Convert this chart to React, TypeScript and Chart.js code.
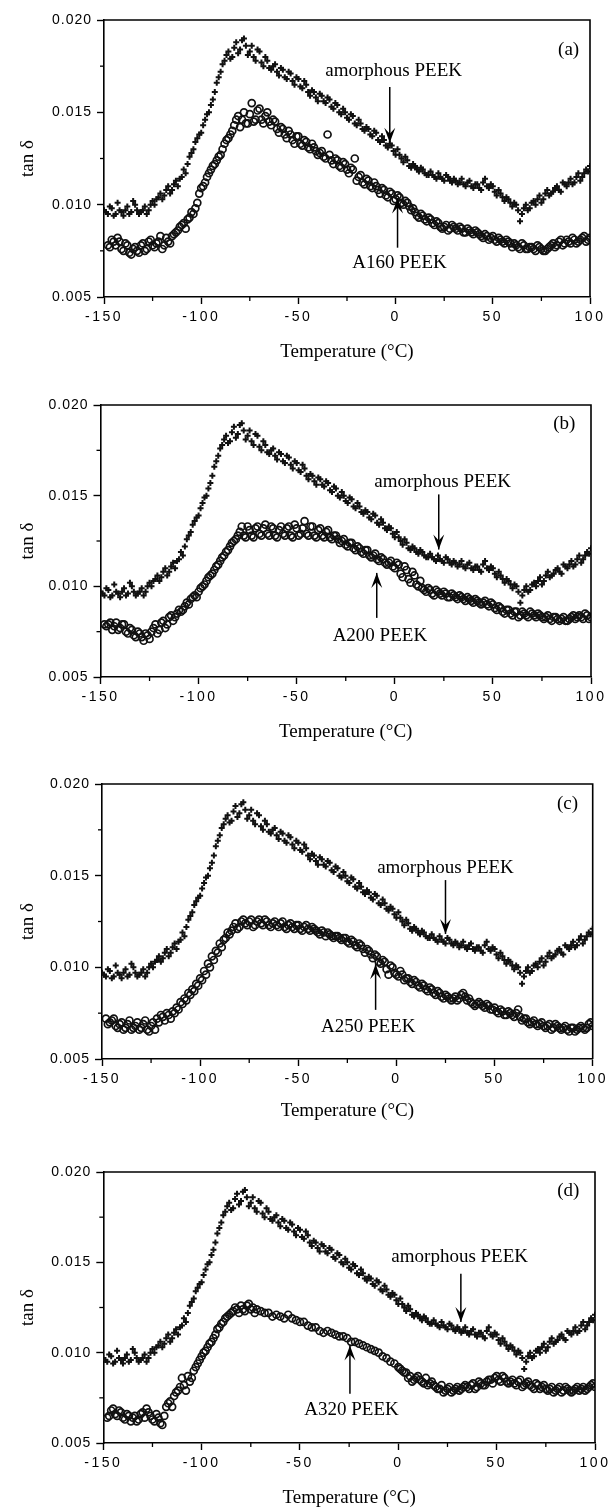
import React, { useEffect, useRef } from 'react';
import { Chart, registerables } from 'chart.js';

Chart.register(...registerables);

// ---------------- data ----------------
// even-degree readings
const temperatures = [
  -150, -148, -146, -144, -142, -140, -138, -136, -134, -132,
  -130, -128, -126, -124, -122, -120, -118, -116, -114, -112,
  -110, -108, -106, -104, -102, -100, -98, -96, -94, -92,
  -90, -88, -86, -84, -82, -80, -78, -76, -74, -72,
  -70, -68, -66, -64, -62, -60, -58, -56, -54, -52,
  -50, -48, -46, -44, -42, -40, -38, -36, -34, -32,
  -30, -28, -26, -24, -22, -20, -18, -16, -14, -12,
  -10, -8, -6, -4, -2, 0, 2, 4, 6, 8,
  10, 12, 14, 16, 18, 20, 22, 24, 26, 28,
  30, 32, 34, 36, 38, 40, 42, 44, 46, 48,
  50, 52, 54, 56, 58, 60, 62, 64, 66, 68,
  70, 72, 74, 76, 78, 80, 82, 84, 86, 88,
  90, 92, 94, 96, 98, 100,
];

// odd-degree readings (second scan of the scatter band)
const temperaturesOdd = [
  -149, -147, -145, -143, -141, -139, -137, -135, -133, -131,
  -129, -127, -125, -123, -121, -119, -117, -115, -113, -111,
  -109, -107, -105, -103, -101, -99, -97, -95, -93, -91,
  -89, -87, -85, -83, -81, -79, -77, -75, -73, -71,
  -69, -67, -65, -63, -61, -59, -57, -55, -53, -51,
  -49, -47, -45, -43, -41, -39, -37, -35, -33, -31,
  -29, -27, -25, -23, -21, -19, -17, -15, -13, -11,
  -9, -7, -5, -3, -1, 1, 3, 5, 7, 9,
  11, 13, 15, 17, 19, 21, 23, 25, 27, 29,
  31, 33, 35, 37, 39, 41, 43, 45, 47, 49,
  51, 53, 55, 57, 59, 61, 63, 65, 67, 69,
  71, 73, 75, 77, 79, 81, 83, 85, 87, 89,
  91, 93, 95, 97, 99,
];

const amorphousPEEK = [
  0.0097, 0.0095, 0.0098, 0.0095, 0.0097, 0.0094, 0.0099, 0.0096, 0.0100, 0.0095,
  0.0097, 0.0095, 0.0100, 0.0100, 0.0104, 0.0103, 0.0108, 0.0106, 0.0111, 0.0110,
  0.0115, 0.0117, 0.0126, 0.0130, 0.0136, 0.0139, 0.0146, 0.0150, 0.0157, 0.0166,
  0.0172, 0.0178, 0.0183, 0.0180, 0.0188, 0.0184, 0.0190, 0.0181, 0.0186, 0.0178,
  0.0183, 0.0175, 0.0178, 0.0173, 0.0176, 0.0170, 0.0173, 0.0168, 0.0171, 0.0165,
  0.0168, 0.0163, 0.0165, 0.0159, 0.0161, 0.0156, 0.0159, 0.0155, 0.0157, 0.0152,
  0.0154, 0.0149, 0.0150, 0.0146, 0.0148, 0.0143, 0.0144, 0.0140, 0.0141, 0.0137,
  0.0139, 0.0134, 0.0135, 0.0131, 0.0132, 0.0127, 0.0127, 0.0123, 0.0124, 0.0120,
  0.0121, 0.0118, 0.0119, 0.0116, 0.0118, 0.0115, 0.0117, 0.0114, 0.0116, 0.0113,
  0.0114, 0.0111, 0.0114, 0.0110, 0.0113, 0.0109, 0.0111, 0.0108, 0.0114, 0.0109,
  0.0110, 0.0105, 0.0106, 0.0102, 0.0103, 0.0099, 0.0100, 0.0091, 0.0098, 0.0097,
  0.0101, 0.0100, 0.0105, 0.0103, 0.0108, 0.0106, 0.0109, 0.0108, 0.0112, 0.0110,
  0.0114, 0.0112, 0.0117, 0.0115, 0.0119, 0.0121,
];
const amorphousPEEKOdd = [
  0.0096, 0.0099, 0.0094, 0.0101, 0.0096, 0.0097, 0.0095, 0.0102, 0.0097, 0.0096,
  0.0099, 0.0097, 0.0102, 0.0103, 0.0106, 0.0105, 0.0110, 0.0108, 0.0113, 0.0114,
  0.0119, 0.0122, 0.0128, 0.0134, 0.0138, 0.0143, 0.0149, 0.0154, 0.0161, 0.0169,
  0.0176, 0.0181, 0.0179, 0.0185, 0.0182, 0.0189, 0.0186, 0.0183, 0.0180, 0.0184,
  0.0177, 0.0180, 0.0174, 0.0175, 0.0172, 0.0174, 0.0169, 0.0172, 0.0167, 0.0169,
  0.0164, 0.0167, 0.0161, 0.0162, 0.0158, 0.0160, 0.0156, 0.0158, 0.0153, 0.0155,
  0.0150, 0.0152, 0.0147, 0.0149, 0.0144, 0.0146, 0.0141, 0.0142, 0.0138, 0.0140,
  0.0135, 0.0137, 0.0132, 0.0133, 0.0129, 0.0130, 0.0125, 0.0126, 0.0121, 0.0122,
  0.0119, 0.0120, 0.0117, 0.0116, 0.0116, 0.0114, 0.0115, 0.0113, 0.0115, 0.0112,
  0.0113, 0.0112, 0.0111, 0.0112, 0.0110, 0.0111, 0.0109, 0.0112, 0.0110, 0.0111,
  0.0107, 0.0108, 0.0104, 0.0104, 0.0101, 0.0101, 0.0097, 0.0095, 0.0100, 0.0098,
  0.0102, 0.0103, 0.0101, 0.0106, 0.0105, 0.0107, 0.0110, 0.0107, 0.0111, 0.0112,
  0.0111, 0.0115, 0.0113, 0.0117, 0.0118,
];

const a160PEEK = [
  null, 0.0078, 0.0081, 0.0078, 0.0080, 0.0075, 0.0078, 0.0073, 0.0077, 0.0074,
  0.0079, 0.0076, 0.0081, 0.0077, 0.0080, 0.0076, 0.0082, 0.0079, 0.0084, 0.0086,
  0.0089, 0.0087, 0.0093, 0.0095, 0.0101, 0.0109, 0.0112, 0.0117, 0.0121, 0.0124,
  0.0127, 0.0133, 0.0136, 0.0140, 0.0146, 0.0142, 0.0150, 0.0144, 0.0155, 0.0146,
  0.0152, 0.0144, 0.0150, 0.0143, 0.0145, 0.0139, 0.0141, 0.0136, 0.0138, 0.0133,
  0.0137, 0.0132, 0.0134, 0.0130, 0.0131, 0.0127, 0.0129, 0.0125, 0.0127, 0.0122,
  0.0124, 0.0120, 0.0122, 0.0117, 0.0119, 0.0113, 0.0116, 0.0111, 0.0113, 0.0109,
  0.0110, 0.0106, 0.0108, 0.0104, 0.0106, 0.0103, 0.0104, 0.0100, 0.0101, 0.0097,
  0.0096, 0.0093, 0.0094, 0.0091, 0.0092, 0.0089, 0.0090, 0.0087, 0.0089, 0.0087,
  0.0088, 0.0086, 0.0087, 0.0085, 0.0086, 0.0084, 0.0085, 0.0083, 0.0084, 0.0081,
  0.0083, 0.0080, 0.0081, 0.0079, 0.0080, 0.0077, 0.0078, 0.0076, 0.0078, 0.0076,
  0.0077, 0.0075, 0.0077, 0.0075, 0.0076, 0.0078, 0.0077, 0.0080, 0.0078, 0.0081,
  0.0079, 0.0081, 0.0080, 0.0082, 0.0080, 0.0082,
];
const a160PEEKOdd = [
  null, 0.0077, 0.0080, 0.0082, 0.0076, 0.0079, 0.0074, 0.0076, 0.0075, 0.0078,
  0.0075, 0.0080, 0.0078, 0.0079, 0.0083, 0.0078, 0.0080, 0.0083, 0.0085, 0.0088,
  0.0090, 0.0092, 0.0096, 0.0098, 0.0106, 0.0110, 0.0115, 0.0119, 0.0122, 0.0126,
  0.0130, 0.0135, 0.0138, 0.0143, 0.0148, 0.0146, 0.0144, 0.0149, 0.0145, 0.0151,
  0.0146, 0.0148, 0.0145, 0.0146, 0.0141, 0.0142, 0.0138, 0.0140, 0.0135, 0.0137,
  0.0133, 0.0135, 0.0131, 0.0133, 0.0129, 0.0128, 0.0126, 0.0138, 0.0124, 0.0125,
  0.0121, 0.0123, 0.0119, 0.0120, 0.0125, 0.0115, 0.0112, 0.0114, 0.0110, 0.0112,
  0.0108, 0.0109, 0.0105, 0.0107, 0.0102, 0.0105, 0.0101, 0.0102, 0.0099, 0.0098,
  0.0094, 0.0095, 0.0092, 0.0093, 0.0090, 0.0091, 0.0088, 0.0088, 0.0086, 0.0089,
  0.0087, 0.0088, 0.0085, 0.0087, 0.0085, 0.0086, 0.0084, 0.0082, 0.0083, 0.0082,
  0.0081, 0.0082, 0.0080, 0.0081, 0.0079, 0.0079, 0.0077, 0.0079, 0.0076, 0.0077,
  0.0076, 0.0078, 0.0076, 0.0075, 0.0077, 0.0079, 0.0078, 0.0081, 0.0079, 0.0080,
  0.0082, 0.0079, 0.0081, 0.0083, 0.0081,
];

const a200PEEK = [
  null, 0.0079, 0.0079, 0.0076, 0.0080, 0.0077, 0.0079, 0.0074, 0.0076, 0.0072,
  0.0074, 0.0070, 0.0073, 0.0075, 0.0079, 0.0076, 0.0081, 0.0079, 0.0084, 0.0083,
  0.0087, 0.0087, 0.0091, 0.0093, 0.0095, 0.0097, 0.0100, 0.0103, 0.0106, 0.0109,
  0.0112, 0.0116, 0.0119, 0.0122, 0.0125, 0.0128, 0.0133, 0.0127, 0.0131, 0.0127,
  0.0133, 0.0128, 0.0134, 0.0128, 0.0132, 0.0127, 0.0133, 0.0128, 0.0133, 0.0127,
  0.0132, 0.0129, 0.0136, 0.0128, 0.0133, 0.0127, 0.0132, 0.0127, 0.0131, 0.0126,
  0.0128, 0.0124, 0.0126, 0.0122, 0.0124, 0.0120, 0.0121, 0.0118, 0.0120, 0.0116,
  0.0118, 0.0114, 0.0115, 0.0112, 0.0114, 0.0110, 0.0112, 0.0105, 0.0109, 0.0102,
  0.0106, 0.0100, 0.0099, 0.0097, 0.0098, 0.0095, 0.0097, 0.0095, 0.0096, 0.0094,
  0.0095, 0.0093, 0.0094, 0.0092, 0.0093, 0.0091, 0.0092, 0.0090, 0.0092, 0.0089,
  0.0090, 0.0087, 0.0088, 0.0085, 0.0087, 0.0084, 0.0086, 0.0084, 0.0085, 0.0083,
  0.0085, 0.0083, 0.0084, 0.0082, 0.0084, 0.0081, 0.0083, 0.0081, 0.0083, 0.0081,
  0.0083, 0.0082, 0.0084, 0.0082, 0.0084, 0.0083,
];
const a200PEEKOdd = [
  null, 0.0078, 0.0080, 0.0078, 0.0076, 0.0079, 0.0075, 0.0077, 0.0073, 0.0075,
  0.0072, 0.0074, 0.0071, 0.0077, 0.0074, 0.0080, 0.0077, 0.0083, 0.0081, 0.0085,
  0.0086, 0.0089, 0.0090, 0.0094, 0.0094, 0.0099, 0.0101, 0.0105, 0.0107, 0.0111,
  0.0114, 0.0117, 0.0120, 0.0124, 0.0126, 0.0130, 0.0128, 0.0133, 0.0128, 0.0132,
  0.0129, 0.0132, 0.0129, 0.0133, 0.0128, 0.0131, 0.0129, 0.0132, 0.0128, 0.0134,
  0.0128, 0.0132, 0.0129, 0.0133, 0.0128, 0.0131, 0.0128, 0.0130, 0.0127, 0.0128,
  0.0126, 0.0125, 0.0123, 0.0124, 0.0121, 0.0122, 0.0119, 0.0120, 0.0117, 0.0117,
  0.0115, 0.0116, 0.0113, 0.0113, 0.0111, 0.0113, 0.0107, 0.0111, 0.0104, 0.0108,
  0.0101, 0.0103, 0.0098, 0.0099, 0.0096, 0.0098, 0.0096, 0.0097, 0.0094, 0.0096,
  0.0094, 0.0095, 0.0093, 0.0094, 0.0092, 0.0093, 0.0091, 0.0091, 0.0090, 0.0091,
  0.0088, 0.0089, 0.0086, 0.0087, 0.0085, 0.0086, 0.0083, 0.0086, 0.0084, 0.0086,
  0.0084, 0.0085, 0.0083, 0.0083, 0.0082, 0.0083, 0.0082, 0.0082, 0.0081, 0.0082,
  0.0084, 0.0083, 0.0083, 0.0085, 0.0082,
];

const a250PEEK = [
  null, 0.0072, 0.0070, 0.0072, 0.0067, 0.0070, 0.0067, 0.0071, 0.0067, 0.0070,
  0.0067, 0.0071, 0.0065, 0.0070, 0.0072, 0.0074, 0.0071, 0.0074, 0.0076, 0.0078,
  0.0081, 0.0083, 0.0086, 0.0088, 0.0091, 0.0094, 0.0098, 0.0102, 0.0106, 0.0109,
  0.0113, 0.0115, 0.0119, 0.0120, 0.0124, 0.0122, 0.0126, 0.0123, 0.0126, 0.0123,
  0.0126, 0.0123, 0.0125, 0.0122, 0.0125, 0.0122, 0.0125, 0.0121, 0.0124, 0.0121,
  0.0123, 0.0120, 0.0123, 0.0120, 0.0121, 0.0119, 0.0120, 0.0117, 0.0118, 0.0116,
  0.0117, 0.0115, 0.0116, 0.0113, 0.0114, 0.0111, 0.0112, 0.0108, 0.0109, 0.0105,
  0.0106, 0.0102, 0.0103, 0.0096, 0.0100, 0.0096, 0.0098, 0.0093, 0.0094, 0.0091,
  0.0092, 0.0089, 0.0090, 0.0087, 0.0088, 0.0085, 0.0086, 0.0083, 0.0084, 0.0082,
  0.0084, 0.0083, 0.0086, 0.0082, 0.0081, 0.0079, 0.0081, 0.0079, 0.0080, 0.0077,
  0.0078, 0.0075, 0.0076, 0.0074, 0.0075, 0.0073, 0.0077, 0.0071, 0.0072, 0.0069,
  0.0071, 0.0068, 0.0070, 0.0067, 0.0069, 0.0067, 0.0068, 0.0066, 0.0068, 0.0065,
  0.0067, 0.0066, 0.0068, 0.0066, 0.0069, 0.0068,
];
const a250PEEKOdd = [
  null, 0.0069, 0.0071, 0.0068, 0.0069, 0.0066, 0.0069, 0.0066, 0.0068, 0.0066,
  0.0069, 0.0066, 0.0068, 0.0066, 0.0070, 0.0073, 0.0075, 0.0072, 0.0075, 0.0077,
  0.0080, 0.0082, 0.0085, 0.0087, 0.0090, 0.0093, 0.0096, 0.0100, 0.0104, 0.0108,
  0.0111, 0.0116, 0.0118, 0.0122, 0.0121, 0.0125, 0.0124, 0.0125, 0.0122, 0.0125,
  0.0124, 0.0126, 0.0123, 0.0124, 0.0123, 0.0124, 0.0122, 0.0123, 0.0122, 0.0123,
  0.0121, 0.0122, 0.0121, 0.0122, 0.0120, 0.0118, 0.0119, 0.0119, 0.0117, 0.0117,
  0.0116, 0.0116, 0.0114, 0.0115, 0.0112, 0.0113, 0.0110, 0.0110, 0.0107, 0.0107,
  0.0103, 0.0104, 0.0099, 0.0101, 0.0097, 0.0095, 0.0096, 0.0094, 0.0092, 0.0093,
  0.0090, 0.0091, 0.0088, 0.0089, 0.0086, 0.0087, 0.0084, 0.0085, 0.0083, 0.0083,
  0.0082, 0.0085, 0.0084, 0.0083, 0.0080, 0.0080, 0.0080, 0.0078, 0.0079, 0.0077,
  0.0076, 0.0077, 0.0074, 0.0076, 0.0074, 0.0075, 0.0073, 0.0072, 0.0070, 0.0070,
  0.0069, 0.0069, 0.0068, 0.0068, 0.0066, 0.0069, 0.0067, 0.0067, 0.0066, 0.0067,
  0.0065, 0.0067, 0.0067, 0.0067, 0.0070,
];

const a320PEEK = [
  null, 0.0064, 0.0068, 0.0066, 0.0068, 0.0064, 0.0066, 0.0062, 0.0065, 0.0063,
  0.0067, 0.0069, 0.0065, 0.0062, 0.0064, 0.0060, 0.0070, 0.0073, 0.0076, 0.0079,
  0.0086, 0.0079, 0.0084, 0.0090, 0.0094, 0.0098, 0.0101, 0.0105, 0.0108, 0.0113,
  0.0116, 0.0119, 0.0121, 0.0123, 0.0124, 0.0126, 0.0123, 0.0127, 0.0125, 0.0124,
  0.0123, 0.0122, 0.0122, 0.0120, 0.0121, 0.0120, 0.0119, 0.0121, 0.0119, 0.0118,
  0.0117, 0.0117, 0.0115, 0.0114, 0.0114, 0.0112, 0.0111, 0.0112, 0.0111, 0.0110,
  0.0109, 0.0109, 0.0108, 0.0106, 0.0106, 0.0105, 0.0104, 0.0103, 0.0102, 0.0101,
  0.0100, 0.0098, 0.0097, 0.0095, 0.0094, 0.0092, 0.0090, 0.0089, 0.0087, 0.0085,
  0.0087, 0.0084, 0.0086, 0.0083, 0.0082, 0.0080, 0.0082, 0.0079, 0.0081, 0.0079,
  0.0081, 0.0080, 0.0082, 0.0080, 0.0083, 0.0081, 0.0083, 0.0082, 0.0085, 0.0083,
  0.0087, 0.0084, 0.0086, 0.0083, 0.0085, 0.0082, 0.0085, 0.0082, 0.0084, 0.0081,
  0.0083, 0.0080, 0.0082, 0.0079, 0.0081, 0.0079, 0.0081, 0.0079, 0.0080, 0.0078,
  0.0080, 0.0079, 0.0081, 0.0080, 0.0082, 0.0081,
];
const a320PEEKOdd = [
  null, 0.0065, 0.0069, 0.0065, 0.0067, 0.0063, 0.0065, 0.0064, 0.0062, 0.0066,
  0.0064, 0.0067, 0.0063, 0.0066, 0.0061, 0.0065, 0.0072, 0.0070, 0.0078, 0.0081,
  0.0082, 0.0087, 0.0086, 0.0092, 0.0096, 0.0100, 0.0103, 0.0106, 0.0110, 0.0114,
  0.0117, 0.0120, 0.0122, 0.0125, 0.0122, 0.0124, 0.0126, 0.0124, 0.0122, null,
  null, null, null, null, null, null, null, null, null, null,
  null, null, null, null, null, null, null, null, null, null,
  null, null, null, null, null, null, null, null, null, null,
  null, null, null, null, null, 0.0091, 0.0089, 0.0086, 0.0084, 0.0086,
  0.0085, 0.0083, 0.0082, 0.0084, 0.0081, 0.0080, 0.0078, 0.0080, 0.0078, 0.0080,
  0.0079, 0.0081, 0.0081, 0.0082, 0.0080, 0.0084, 0.0082, 0.0084, 0.0085, 0.0086,
  0.0085, 0.0087, 0.0084, 0.0084, 0.0083, 0.0084, 0.0081, 0.0083, 0.0082, 0.0080,
  0.0082, 0.0081, 0.0080, 0.0080, 0.0078, 0.0080, 0.0078, 0.0081, 0.0079, 0.0079,
  0.0081, 0.0080, 0.0079, 0.0081, 0.0083,
];

const xTickValues = [-150, -100, -50, 0, 50, 100];
const yTickValues = [0.005, 0.01, 0.015, 0.02];

const xAxisTitle = 'Temperature (°C)';
const yAxisTitle = 'tan δ';
const referenceName = 'amorphous PEEK';

// ---------------- layout / annotation config ----------------
const SERIF = '"Liberation Serif", "Times New Roman", serif';
const SANS = '"Liberation Sans", Arial, sans-serif';

type Notes = {
  tag: [number, number];
  refText: [number, number];
  refArrow: [number, number, number];
  sampleText: [number, number];
  sampleArrow: [number, number, number];
};

type Panel = {
  id: string;
  tag: string;
  sampleName: string;
  sample: (number | null)[];
  sampleOdd: (number | null)[];
  box: { l: number; r: number; t: number; b: number };
  canvasTop: number;
  canvasH: number;
  titleY: number;
  notes: Notes;
};

const panels: Panel[] = [
  {
    id: 'a', tag: '(a)', sampleName: 'A160 PEEK', sample: a160PEEK, sampleOdd: a160PEEKOdd,
    box: { l: 104, r: 590, t: 20, b: 297 }, canvasTop: 0, canvasH: 372, titleY: 352,
    notes: {
      tag: [89, 0.0184], refText: [-1, 0.01723], refArrow: [-3, 0.01637, 0.01335],
      sampleText: [2, 0.00685], sampleArrow: [1, 0.00767, 0.01033],
    },
  },
  {
    id: 'b', tag: '(b)', sampleName: 'A200 PEEK', sample: a200PEEK, sampleOdd: a200PEEKOdd,
    box: { l: 100.5, r: 591, t: 405, b: 677 }, canvasTop: 378, canvasH: 372, titleY: 732,
    notes: {
      tag: [86.4, 0.01893], refText: [24.4, 0.01575], refArrow: [22.4, 0.01507, 0.01203],
      sampleText: [-7.6, 0.00725], sampleArrow: [-9.2, 0.00826, 0.01074],
    },
  },
  {
    id: 'c', tag: '(c)', sampleName: 'A250 PEEK', sample: a250PEEK, sampleOdd: a250PEEKOdd,
    box: { l: 102, r: 592.7, t: 784, b: 1059 }, canvasTop: 756, canvasH: 372, titleY: 1111,
    notes: {
      tag: [87.2, 0.0189], refText: [25, 0.01544], refArrow: [25, 0.01476, 0.01182],
      sampleText: [-14.4, 0.00676], sampleArrow: [-10.6, 0.00768, 0.01017],
    },
  },
  {
    id: 'd', tag: '(d)', sampleName: 'A320 PEEK', sample: a320PEEK, sampleOdd: a320PEEKOdd,
    box: { l: 103.3, r: 595, t: 1172, b: 1443 }, canvasTop: 1135, canvasH: 373, titleY: 1498,
    notes: {
      tag: [86.4, 0.01895], refText: [31.2, 0.0153], refArrow: [31.8, 0.01437, 0.0117],
      sampleText: [-23.8, 0.00681], sampleArrow: [-24.6, 0.00773, 0.0104],
    },
  },
];

function toPoints(evenValues: (number | null)[], oddValues: (number | null)[]) {
  const pts: { x: number; y: number }[] = [];
  temperatures.forEach((t, i) => {
    const v = evenValues[i];
    if (v !== null && v !== undefined) pts.push({ x: t, y: v });
  });
  temperaturesOdd.forEach((t, i) => {
    const v = oddValues[i];
    if (v !== null && v !== undefined) pts.push({ x: t, y: v });
  });
  return pts;
}

function drawArrow(ctx: CanvasRenderingContext2D, x: number, y0: number, y1: number) {
  ctx.beginPath();
  ctx.moveTo(x, y0);
  ctx.lineTo(x, y1);
  ctx.stroke();
  const dir = y1 > y0 ? 1 : -1;
  const L = 15, W = 5.5, N = 9;
  ctx.beginPath();
  ctx.moveTo(x, y1);
  ctx.lineTo(x - W, y1 - dir * L);
  ctx.lineTo(x, y1 - dir * N);
  ctx.lineTo(x + W, y1 - dir * L);
  ctx.closePath();
  ctx.fill();
}

function makeDecor(panel: Panel) {
  return {
    id: 'decor' + panel.id,
    beforeDraw(chart: any) {
      const patch = (scale: any, spacing: string) => {
        if (!scale || scale.__spaced) return;
        const orig = scale.drawLabels;
        scale.drawLabels = function (area: any) {
          const c = this.ctx;
          c.save();
          c.letterSpacing = spacing;
          orig.call(this, area);
          c.restore();
        };
        scale.__spaced = true;
      };
      patch(chart.scales.x, '2.5px');
      patch(chart.scales.y, '1px');
    },
    afterDraw(chart: any) {
      const { ctx, chartArea: a } = chart;
      const xs = chart.scales.x;
      const ys = chart.scales.y;
      ctx.save();
      ctx.strokeStyle = '#000';
      ctx.fillStyle = '#000';
      ctx.lineWidth = 1.6;
      ctx.beginPath();
      ctx.moveTo(a.left, a.top);
      ctx.lineTo(a.right, a.top);
      ctx.lineTo(a.right, a.bottom);
      ctx.stroke();

      // minor ticks
      ctx.lineWidth = 1.3;
      for (let i = 0; i < xTickValues.length - 1; i++) {
        const px = xs.getPixelForValue((xTickValues[i] + xTickValues[i + 1]) / 2);
        ctx.beginPath();
        ctx.moveTo(px, a.bottom);
        ctx.lineTo(px, a.bottom + 4);
        ctx.stroke();
      }
      for (let i = 0; i < yTickValues.length - 1; i++) {
        const py = ys.getPixelForValue((yTickValues[i] + yTickValues[i + 1]) / 2);
        ctx.beginPath();
        ctx.moveTo(a.left - 4, py);
        ctx.lineTo(a.left, py);
        ctx.stroke();
      }

      // annotations
      const n = panel.notes;
      const P = (x: number, y: number) => [xs.getPixelForValue(x), ys.getPixelForValue(y)];
      ctx.font = `19px ${SERIF}`;
      ctx.textAlign = 'center';
      ctx.textBaseline = 'middle';
      let [tx, ty] = P(n.tag[0], n.tag[1]);
      ctx.fillText(panel.tag, tx, ty);
      [tx, ty] = P(n.refText[0], n.refText[1]);
      ctx.fillText(referenceName, tx, ty);
      [tx, ty] = P(n.sampleText[0], n.sampleText[1]);
      ctx.fillText(panel.sampleName, tx, ty);

      ctx.lineWidth = 1.5;
      const ra = n.refArrow;
      drawArrow(ctx, xs.getPixelForValue(ra[0]), ys.getPixelForValue(ra[1]), ys.getPixelForValue(ra[2]));
      const sa = n.sampleArrow;
      drawArrow(ctx, xs.getPixelForValue(sa[0]), ys.getPixelForValue(sa[1]), ys.getPixelForValue(sa[2]));
      ctx.restore();
    },
  };
}

function PanelChart({ panel }: { panel: Panel }) {
  const ref = useRef<HTMLCanvasElement | null>(null);

  useEffect(() => {
    const { box, canvasTop, canvasH, titleY } = panel;
    const titleHalf = 9.5;
    const padBottom = Math.max(0, canvasTop + canvasH - titleY - titleHalf);
    const xHeight = canvasTop + canvasH - padBottom - box.b;
    const tickFont = { family: SANS, size: 14 };

    const chart = new Chart(ref.current as HTMLCanvasElement, {
      type: 'scatter',
      data: {
        datasets: [
          {
            label: panel.sampleName,
            data: toPoints(panel.sample, panel.sampleOdd),
            pointStyle: 'circle',
            pointRadius: 3.5,
            pointBorderWidth: 1.7,
            pointBorderColor: '#111',
            pointBackgroundColor: 'rgba(255,255,255,0)',
          },
          {
            label: referenceName,
            data: toPoints(amorphousPEEK, amorphousPEEKOdd),
            pointStyle: 'cross',
            pointRadius: 3,
            pointBorderWidth: 2,
            pointBorderColor: '#111',
            pointBackgroundColor: '#111',
          },
        ],
      } as any,
      options: {
        responsive: false,
        animation: false,
        devicePixelRatio: 1,
        layout: {
          padding: { top: box.t - canvasTop, right: 615 - box.r, bottom: padBottom, left: 0 },
        },
        plugins: { legend: { display: false }, tooltip: { enabled: false } },
        scales: {
          x: {
            type: 'linear',
            min: -150,
            max: 100,
            afterBuildTicks: (s: any) => {
              s.ticks = xTickValues.map((v) => ({ value: v }));
            },
            afterFit: (s: any) => {
              s.height = xHeight;
            },
            ticks: {
              autoSkip: false,
              maxRotation: 0,
              minRotation: 0,
              padding: 5,
              color: '#000',
              font: tickFont,
              callback: (v: any) => String(v),
            },
            grid: {
              display: true,
              drawOnChartArea: false,
              drawTicks: true,
              tickLength: 7,
              tickColor: '#000',
              tickWidth: 1.4,
            },
            border: { display: true, color: '#000', width: 1.6 },
            title: {
              display: true,
              text: xAxisTitle,
              color: '#000',
              font: { family: SERIF, size: 19, lineHeight: 1 },
              padding: 0,
            },
          },
          y: {
            type: 'linear',
            min: 0.005,
            max: 0.02,
            afterBuildTicks: (s: any) => {
              s.ticks = yTickValues.map((v) => ({ value: v }));
            },
            afterFit: (s: any) => {
              s.width = box.l;
            },
            ticks: {
              padding: 5,
              color: '#000',
              font: tickFont,
              callback: (v: any) => Number(v).toFixed(3),
            },
            grid: {
              display: true,
              drawOnChartArea: false,
              drawTicks: true,
              tickLength: 7,
              tickColor: '#000',
              tickWidth: 1.4,
            },
            border: { display: true, color: '#000', width: 1.6 },
            title: {
              display: true,
              text: yAxisTitle,
              color: '#000',
              font: { family: SERIF, size: 19, lineHeight: 1.2 },
              padding: { top: 17, bottom: 0 },
            },
          },
        },
      } as any,
      plugins: [makeDecor(panel)],
    });
    chart.draw();
    return () => chart.destroy();
  }, [panel]);

  return (
    <canvas
      ref={ref}
      width={615}
      height={panel.canvasH}
      style={{ position: 'absolute', left: 0, top: panel.canvasTop, width: 615, height: panel.canvasH }}
    />
  );
}

export default function App() {
  return (
    <div style={{ position: 'absolute', left: 0, top: 0, width: 615, height: 1508, background: '#fff', overflow: 'hidden' }}>
      {panels.map((p) => (
        <PanelChart key={p.id} panel={p} />
      ))}
    </div>
  );
}
